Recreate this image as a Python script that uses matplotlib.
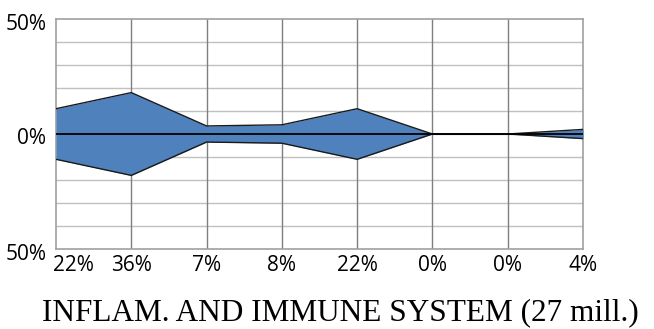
import matplotlib
matplotlib.use("Agg")
import matplotlib.pyplot as plt
import numpy as np
from matplotlib.transforms import ScaledTranslation

# share of each stage (percent)
stage_labels = ["22%", "36%", "7%", "8%", "22%", "0%", "0%", "4%"]
stage_values = [22, 36, 7, 8, 22, 0, 0, 4]
y_tick_values = [-50, 0, 50]
y_tick_labels = ["50%", "0%", "50%"]
title_text = "INFLAM. AND IMMUNE SYSTEM (27 mill.)"

fig = plt.figure(figsize=(6.54, 3.29), dpi=100)
ax = fig.add_axes([56 / 654, 1 - 249 / 329, (583 - 56) / 654, (249 - 19) / 329])

x = np.arange(len(stage_values))
half = np.array(stage_values) / 2.0

ax.fill_between(x, -half, half, color="#4F81BD", zorder=3, linewidth=0)
ax.plot(x, half, color="#1a1a1a", lw=1.0, zorder=4)
ax.plot(x, -half, color="#1a1a1a", lw=1.0, zorder=4)
ax.axhline(0, color="black", lw=1.3, zorder=5)

ax.set_xlim(0, len(stage_values) - 1)
ax.set_ylim(-50, 50)

# grid
for yv in range(-40, 50, 10):
    ax.axhline(yv, color="#c0c0c0", lw=1.0, zorder=1)
for xv in x[1:-1]:
    ax.axvline(xv, color="#7f7f7f", lw=1.0, zorder=2)
for s in ax.spines.values():
    s.set_color("#a0a0a0")
    s.set_linewidth(1.2)

font = "Open Sans"
ax.set_xticks(x)
ax.set_xticklabels(stage_labels, fontsize=15, family=font)
ax.set_yticks(y_tick_values)
ax.set_yticklabels(y_tick_labels, fontsize=15, family=font)
ax.tick_params(length=0)
ax.tick_params(axis="x", pad=4)
ax.tick_params(axis="y", pad=7)

first = ax.get_xticklabels()[0]
first.set_horizontalalignment("left")
first.set_transform(first.get_transform() + ScaledTranslation(-3 / 100, 0, fig.dpi_scale_trans))

for lab in ax.get_yticklabels():
    lab.set_transform(lab.get_transform() + ScaledTranslation(0, -2.5 / 100, fig.dpi_scale_trans))

fig.text(340 / 654, 1 - 320 / 329, title_text, ha="center", va="baseline",
         fontsize=22.5, family="Liberation Serif")

fig.savefig("out.png", dpi=100)
